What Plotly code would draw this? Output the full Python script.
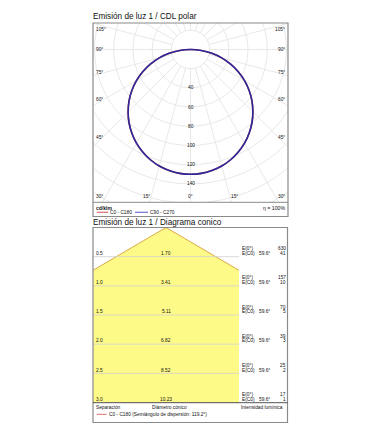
import numpy as np
import plotly.graph_objects as go

W, H = 381, 436

# ---------------- data ----------------
angles = [0, 5, 10, 15, 20, 25, 30, 35, 40, 45, 50, 55, 60, 65, 70, 75, 80, 85, 90]
intensity_c0_c180 = [130.0, 129.5, 128.0, 125.6, 122.2, 117.8, 112.6, 106.5, 99.6, 91.9,
                     83.6, 74.6, 65.0, 54.9, 44.5, 33.6, 22.6, 11.3, 0.0]
intensity_c90_c270 = [130.0, 129.5, 128.0, 125.6, 122.2, 117.8, 112.6, 106.5, 99.6, 91.9,
                      83.6, 74.6, 65.0, 54.9, 44.5, 33.6, 22.6, 11.3, 0.0]
radial_ticks = [40, 60, 80, 100, 120, 140]

distances = [0.5, 1.0, 1.5, 2.0, 2.5, 3.0]
diameters = [1.70, 3.41, 5.11, 6.82, 8.52, 10.23]
e_center = [630, 157, 70, 39, 25, 17]
e_c0 = [41, 10, 5, 3, 2, 1]
half_angle = 59.6
beam_angle = 119.2

FONT = "Liberation Sans"
TXT = "#111111"
SMALL = 4.8


def px(x):
    return x / W


def py(y):
    return 1 - y / H


annotations = []
shapes = []


def ann(text, x, y, anchor="left", size=SMALL, color=TXT):
    annotations.append(dict(text=text, x=px(x), y=py(y), xref="paper", yref="paper",
                            xanchor=anchor, yanchor="middle", showarrow=False,
                            borderpad=0, borderwidth=0,
                            font=dict(family=FONT, size=size, color=color)))


def pline(x0, y0, x1, y1, color, width=1):
    shapes.append(dict(type="line", xref="paper", yref="paper", x0=px(x0), y0=py(y0),
                       x1=px(x1), y1=py(y1), line=dict(color=color, width=width)))


fig = go.Figure()

# ---------------- polar (drawn on cartesian axes) ----------------
S = 0.96          # px per cd/klm
OX, OY = 190.5, 49.5
L, R, T, B = 93, 288, 23, 202
xr = [(L - OX) / S, (R - OX) / S]
yr = [-(B - OY) / S, (OY - T) / S]

fig.update_layout(
    xaxis=dict(domain=[px(L), px(R)], range=xr, visible=False, fixedrange=True),
    yaxis=dict(domain=[py(B), py(T)], range=yr, visible=False, fixedrange=True),
)

grid = "#e2e2e2"
for r in range(20, 261, 20):
    shapes.append(dict(type="circle", xref="x", yref="y", x0=-r, x1=r, y0=-r, y1=r,
                       line=dict(color=grid, width=0.8), layer="below"))
for a in range(0, 360, 15):
    t = np.radians(a)
    shapes.append(dict(type="line", xref="x", yref="y",
                       x0=20 * np.sin(t), y0=-20 * np.cos(t),
                       x1=300 * np.sin(t), y1=-300 * np.cos(t),
                       line=dict(color=grid, width=0.8), layer="below"))


def curve(vals):
    th = np.radians(np.concatenate([-np.array(angles[::-1]), np.array(angles[1:])]))
    rr = np.concatenate([np.array(vals[::-1]), np.array(vals[1:])])
    return rr * np.sin(th), -rr * np.cos(th)


x0c, y0c = curve(intensity_c0_c180)
fig.add_trace(go.Scatter(x=x0c, y=y0c, mode="lines", line=dict(color="#d04040", width=1.6),
                         line_shape="spline", xaxis="x", yaxis="y", hoverinfo="skip"))
x9c, y9c = curve(intensity_c90_c270)
fig.add_trace(go.Scatter(x=x9c, y=y9c, mode="lines", line=dict(color="#2a2a9c", width=1.6),
                         line_shape="spline", xaxis="x", yaxis="y", hoverinfo="skip"))

for r in radial_ticks:
    annotations.append(dict(text=str(r), x=0, y=-r, xref="x", yref="y", showarrow=False,
                            xanchor="center", yanchor="middle", borderpad=0,
                            font=dict(family=FONT, size=SMALL, color=TXT)))

side_labels = [("105°", 29.3), ("90°", 49.3), ("75°", 72.7), ("60°", 100), ("45°", 137.3), ("30°", 196.7)]
for t, yy in side_labels:
    ann(t, 96.5, yy, "left")
    ann(t, 284.5, yy, "right")
ann("15°", 146, 196.7, "center")
ann("0°", 190.5, 196.7, "center")
ann("15°", 234.5, 196.7, "center")

# frame + legend
BORDER = "#8a8a8a"
shapes.append(dict(type="rect", xref="paper", yref="paper", x0=px(93), y0=py(216.5),
                   x1=px(288), y1=py(23), line=dict(color=BORDER, width=1.2)))
pline(93, 202.3, 288, 202.3, BORDER, 1)
ann("<b>cd/klm</b>", 96.5, 208.4, "left", 5)
pline(96.7, 212.3, 108.3, 212.3, "#e07070", 1.2)
ann("C0 - C180", 110, 212.3, "left")
pline(135, 212.3, 148, 212.3, "#6c6cd8", 1.2)
ann("C90 - C270", 150, 212.3, "left")
ann("η = 100%", 284.5, 208.4, "right", 5.2)

ann("Emisión de luz 1 / CDL polar", 93, 16.5, "left", 8.2)

# ---------------- cone diagram ----------------
CL, CR, CT, CB = 93, 239, 227.5, 402.5
cscale = (CB - CT) / distances[-1]
half_w = (CR - CL) / 2 / cscale
fig.update_layout(
    xaxis2=dict(domain=[px(CL), px(CR)], range=[-half_w, half_w], visible=False,
                fixedrange=True, anchor="y2"),
    yaxis2=dict(domain=[py(CB), py(CT)], range=[distances[-1], 0], visible=False,
                fixedrange=True, anchor="x2"),
)
dmax = diameters[-1] / 2
fig.add_trace(go.Scatter(x=[-dmax, 0, dmax, -dmax], y=[distances[-1], 0, distances[-1], distances[-1]],
                         mode="lines", fill="toself", fillcolor="#fefa88",
                         line=dict(color="#dca84a", width=1), xaxis="x2", yaxis="y2",
                         hoverinfo="skip"))

for i, d in enumerate(distances):
    yline = CT + d * cscale
    if i < len(distances) - 1:
        shapes.append(dict(type="line", xref="paper", yref="y2", x0=px(CL), x1=px(CR),
                           y0=d, y1=d, line=dict(color="#d2d2d2", width=0.8)))
    ann(f"{d:.1f}", 96.5, yline - 3.2, "left")
    ann(f"{diameters[i]:.2f}", 166, yline - 3.2, "center")
    ann("E(0°)", 241.7, yline - 8, "left")
    ann("E(C0)", 241.7, yline - 3.2, "left")
    ann(f"{half_angle}°", 259, yline - 3.2, "left")
    ann(str(e_center[i]), 285.7, yline - 8, "right")
    ann(str(e_c0[i]), 285.7, yline - 3.2, "right")

shapes.append(dict(type="rect", xref="paper", yref="paper", x0=px(93), y0=py(422.5),
                   x1=px(287.5), y1=py(227.5), line=dict(color=BORDER, width=1.2)))
pline(93, 402.7, 287.5, 402.7, "#555555", 1)
ann("Separación", 96.5, 407.7, "left")
ann("Diámetro cónico", 151.7, 407.7, "left")
ann("Intensidad lumínica", 283, 407.5, "right")
pline(96.7, 414.3, 106.7, 414.3, "#e07070", 1)
ann(f"C0 - C180 (Semiángulo de dispersión: {beam_angle}°)", 108.5, 414.3, "left")

ann("Emisión de luz 1 / Diagrama conico", 93, 222.3, "left", 8.2)

fig.update_layout(width=W, height=H, margin=dict(l=0, r=0, t=0, b=0),
                  paper_bgcolor="white", plot_bgcolor="rgba(0,0,0,0)",
                  showlegend=False, shapes=shapes, annotations=annotations)

fig.write_html("out.html", config={"displayModeBar": False})
